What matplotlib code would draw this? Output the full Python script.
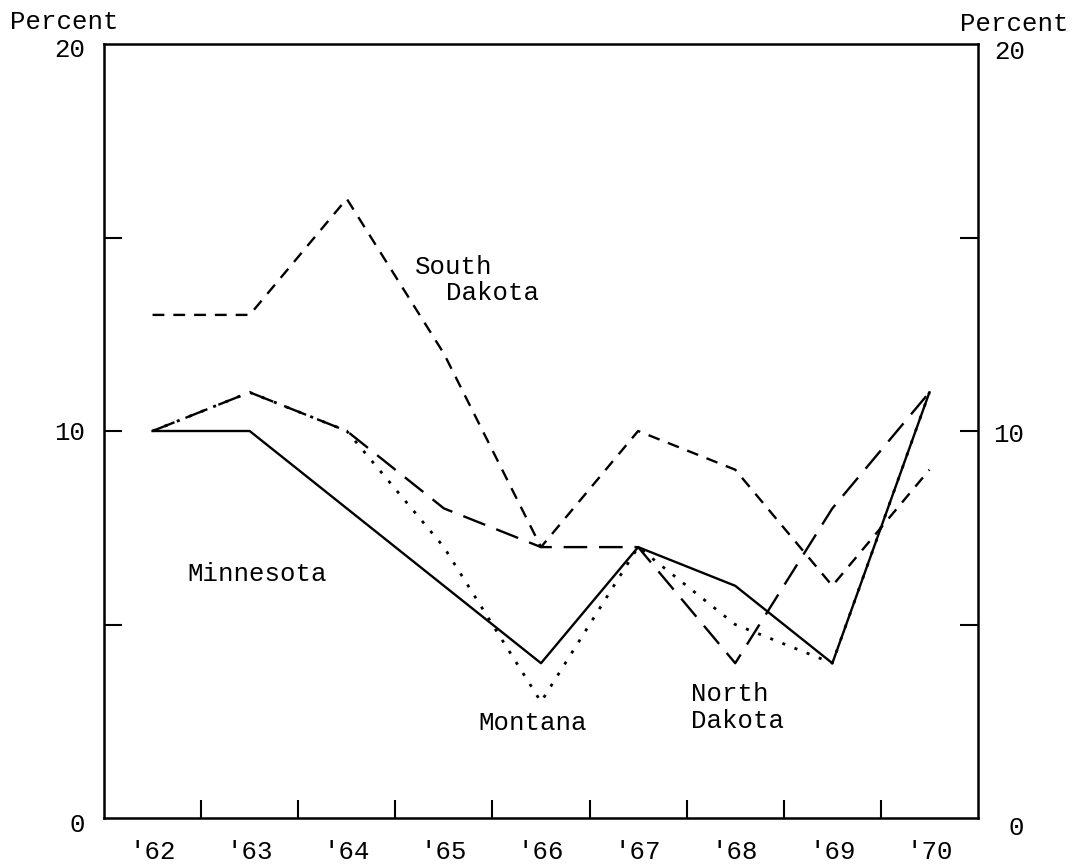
import numpy as np
import matplotlib
matplotlib.use("Agg")
import matplotlib.pyplot as plt
from matplotlib.transforms import blended_transform_factory

plt.rcParams["font.family"] = ["Liberation Mono", "DejaVu Sans Mono"]

years = ["'62", "'63", "'64", "'65", "'66", "'67", "'68", "'69", "'70"]
south_dakota = [13, 13, 16, 12, 7, 10, 9, 6, 9]
minnesota = [10, 10, 8, 6, 4, 7, 6, 4, 11]
montana = [10, 11, 10, 7, 3, 7, 5, 4, 11]
north_dakota = [10, 11, 10, 8, 7, 7, 4, 8, 11]

x = np.arange(len(years))
lw = 1.7
fs = 18.5

fig = plt.figure(figsize=(10.78, 8.66), dpi=100)
ax = fig.add_axes([104 / 1078, 1 - 818 / 866, 874 / 1078, 774 / 866])

ax.plot(x, south_dakota, color="k", lw=lw, dashes=(5, 3.8))
ax.plot(x, minnesota, color="k", lw=lw)
ax.plot(x, montana, color="k", lw=2.0, dashes=(1.1, 3.6))
ax.plot(x, north_dakota, color="k", lw=lw, dashes=(10, 5))

ax.set_xlim(-0.5, 8.5)
ax.set_ylim(0, 20)
for s in ax.spines.values():
    s.set_linewidth(1.8)

# year labels sit between the tick marks
ax.set_xticks(x[:-1] + 0.5)
ax.set_xticklabels([])
ax.set_xticks(x, minor=True)
ax.set_xticklabels(years, minor=True, fontsize=fs)
ax.tick_params(axis="x", which="major", direction="in", length=13, width=1.5)
ax.tick_params(axis="x", which="minor", length=0, pad=16)

ax.set_yticks([5, 10, 15])
ax.set_yticklabels([])
ax.tick_params(axis="y", which="major", direction="in", length=13, width=1.5,
               left=True, right=True)

# percent labels on both sides
tl = blended_transform_factory(ax.transAxes, ax.transData)
for val, dy in [(20, -0.15), (10, -0.05), (0, -0.18)]:
    ax.text(-0.022, val + dy, str(val), transform=tl, ha="right", va="center",
            fontsize=fs)
for val, dy, dx in [(20, -0.2, 1.019), (10, -0.1, 1.017), (0, -0.25, 1.035)]:
    ax.text(dx, val + dy, str(val), transform=tl, ha="left", va="center",
            fontsize=fs)
fig.text(10 / 1078, 1 - 22 / 866, "Percent", ha="left", va="center", fontsize=fs)
fig.text(1068 / 1078, 1 - 24 / 866, "Percent", ha="right", va="center", fontsize=fs)

# series labels
ax.text(2.7, 13.9, "South\n  Dakota", fontsize=fs, ha="left", va="center",
        linespacing=1.15)
ax.text(0.36, 6.3, "Minnesota", fontsize=fs, ha="left", va="center")
ax.text(3.35, 2.45, "Montana", fontsize=fs, ha="left", va="center")
ax.text(5.54, 2.85, "North\nDakota", fontsize=fs, ha="left", va="center",
        linespacing=1.15)

fig.savefig("out.png", dpi=100)
